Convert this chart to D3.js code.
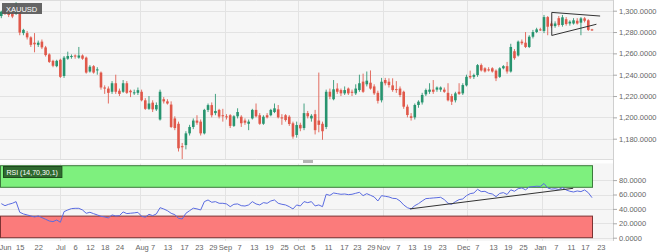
<!DOCTYPE html>
<html><head><meta charset="utf-8">
<script src="https://cdn.jsdelivr.net/npm/d3@7"></script>
<style>
html,body{margin:0;padding:0;background:#fff;}
svg{display:block;font-family:"Liberation Sans",Arial,sans-serif;}
</style></head>
<body><svg id="c" width="660" height="252"></svg>
<script>
// ---------------- DATA ----------------
const symbol = "XAUUSD";
const rsiLabel = "RSI (14,70,30,1)";

const opens = [1295,1299,1298,1297.5,1297,1301,1279,1279,1275,1270,
1268,1271,1265.6,1259,1253,1248,1254,1238.8,1255,1257,
1258,1256,1258,1256,1243,1248,1244,1242,1228,1227,
1224,1232,1225,1224,1232,1225,1222.5,1223,1224,1216,
1208,1213.8,1207.5,1198,1217,1215,1212,1199,1194,1173,
1174,1185,1191,1197,1196,1185,1207,1211.5,1204,1207,
1202,1201,1202,1192,1201,1200.6,1197,1194,1199,1207,
1202,1194,1202,1202,1205,1207.5,1200,1202,1200.6,1194.4,
1183.5,1193,1190,1204,1199,1203,1197,1194,1191,1224,
1217,1227,1225.6,1222.5,1227,1224,1222.5,1225.6,1233.5,1231,
1232.5,1229,1223,1216,1235,1233.4,1230,1226.5,1227,1224,
1210,1201,1200,1211.6,1214,1221.6,1224,1226,1226,1226,
1226,1223,1220,1216,1224,1222.5,1230,1238.8,1238,1239.7,
1249,1246,1245,1246,1243.8,1238,1246,1248,1243,1262,
1258,1271,1270,1266,1275.6,1280,1282.5,1281,1294,1288,
1285.6,1293,1286.6,1292,1288,1288,1290.6,1288.8,1292.8,1291,
1282.5];
const highs = [1300,1302,1300,1299,1308,1302,1283,1281,1276,1279,
1272,1273,1267,1260,1254,1254,1255,1257.5,1261.6,1259,
1259,1266,1259,1257,1249,1249,1247,1243,1230,1229,
1234,1240,1227,1235,1234,1226,1226,1228,1226,1218,
1220,1216,1214,1226,1219,1217,1215,1201,1196,1176,
1187,1193,1199,1202,1198,1208,1213,1214,1222,1208,
1208,1203,1203,1202,1208.5,1202,1199,1198,1208,1213,
1204,1202,1204,1208,1213,1211.6,1203,1203,1202,1196,
1196,1195,1213,1206,1203,1207,1242,1196,1226,1227,
1235,1232,1227,1229,1228,1226,1231,1240,1241,1243,
1244,1231,1225,1237,1237,1236.6,1236.6,1234,1229,1225,
1212,1204,1213,1216,1223,1227,1232,1235,1229,1229,
1228,1232,1222,1224,1232,1232,1240,1243.8,1241,1250,
1250.5,1247,1247,1247,1245,1247,1249,1252,1269,1264,
1272,1273,1280,1277,1282,1284,1284,1296,1295,1290,
1290,1295,1296,1294,1291,1293,1293,1294,1294,1292,
1283];
const lows = [1293,1296,1294,1293,1296,1277,1277,1273,1266,1261,
1266,1264,1257,1251,1247,1247,1237,1237,1254,1255,
1255,1255,1254,1241,1242,1241,1240,1226,1222,1213,
1222,1222,1220,1223,1222,1219,1221,1221,1215,1207,
1207,1205,1206,1197,1213,1212,1190,1188,1168,1160,
1170,1183,1189,1193,1183,1184,1205,1200,1202,1199,
1196,1198,1190,1191,1199,1191,1193,1188,1198,1200,
1193,1193,1199,1201,1204,1199,1193,1196,1192,1180,
1181,1187,1188,1199,1196,1184,1186,1179,1189,1217,
1216,1222,1220,1221,1221,1220,1221,1224,1223,1229,
1226,1221,1213,1214,1230,1228,1224,1223,1219,1208,
1200,1197,1198,1209,1212,1220,1222,1222,1224,1224,
1223,1215,1211.6,1214,1221,1221,1229,1236,1236,1238,
1243,1242,1243,1242,1234,1237,1245,1241,1242,1254,
1257,1268,1265,1265,1274,1279,1281,1279,1277,1284,
1284,1285,1285,1286,1286,1287,1287,1277,1289,1281,
1281];
const closes = [1299,1298,1296,1294.5,1301,1279.5,1282,1275,1268,1268.5,
1270,1265.6,1258.4,1252,1248.4,1253,1238,1256,1257.5,1257.5,
1257,1258,1255,1242,1247.5,1242,1245,1228,1227,1223,
1232,1224,1222,1232,1223,1223.5,1223.5,1225.5,1216,1208,
1213,1207.5,1211.6,1224,1215,1213,1191,1190,1171,1172,
1185,1191,1197,1195,1185,1207,1211.5,1202,1206,1200.7,
1201,1200,1192,1201,1205,1194.5,1195,1196,1207,1201,
1194,1200.6,1200,1207,1208.5,1200,1199,1197.5,1193.8,1182,
1192.8,1189.7,1204,1201,1201.5,1188,1193,1187,1224,1219.4,
1226.3,1224,1222.5,1225.6,1222.5,1223,1227,1232,1224,1234.4,
1227,1222.5,1215.5,1233.4,1232,1230.3,1225.6,1226,1221,1210,
1202.2,1199.5,1211.6,1214.7,1221,1225.6,1226,1224,1228,1228,
1224,1216,1214.7,1222.5,1222,1230.3,1238,1237.5,1239.7,1249,
1244,1243,1244,1243,1236.6,1246,1248,1243,1266,1255.5,
1271,1269.5,1266,1275.6,1280,1282.5,1282,1294,1285,1285.6,
1288,1286.6,1293.8,1287.5,1289.7,1291,1288,1292.8,1290.6,1282,
1281.5];

const rsiValues = [47.3,44.5,46.4,47.8,50.1,35.3,33.0,31.6,30.2,28.8,
30.2,27.9,25.6,23.2,22.3,24.6,21.4,36.2,38.5,40.4,
40.8,40.8,38.5,33.9,35.3,33.4,31.6,29.7,28.8,27.5,
31.6,30.2,30.6,35.8,33.5,34.0,34.5,35.2,29.8,28.5,
32.5,30.6,33.0,41.7,39.9,37.5,33.9,32.0,27.0,26.0,
33.9,37.5,41.0,40.0,38.5,50.1,52.4,49.2,50.1,47.8,
47.8,46.9,43.1,46.4,46.9,44.5,44.0,45.5,50.1,46.9,
45.5,48.7,47.8,51.0,52.4,47.8,46.4,45.5,43.1,39.9,
45.5,44.1,50.1,48.7,50.1,44.1,45.5,43.1,60.3,58.8,
62.1,61.2,60.3,60.7,59.8,60.3,61.7,63.0,58.4,61.2,
58.9,56.6,51.0,58.4,57.5,56.6,54.7,54.3,51.0,45.5,
41.7,39.9,44.5,47.3,51.0,54.3,54.7,55.2,55.6,56.1,
52.9,47.8,46.4,50.1,52.9,53.8,58.4,61.2,62.1,67.2,
64.0,64.4,61.7,60.7,57.0,61.5,62.6,60.0,66.5,64.5,
68.1,69.1,66.5,70.5,70.9,71.5,71.2,75.3,69.0,67.5,
68.0,67.0,69.5,66.3,64.5,63.5,64.9,64.0,66.3,62.5,
55.6];

const priceTicks = [1180,1200,1220,1240,1260,1280,1300];
const rsiTicks = [0,20,40,60,80];
const rsiUpper = 70, rsiLower = 30;
const xTickIdx = [1,5,10,16,20,24,28,32,38,41,45,49.5,53.5,57.3,60.6,64.4,68.4,72.5,76.6,80.6,84.4,88.5,92.8,96.3,100.1,103.4,107.4,111.2,115.3,119.4,125.1,128.8,133.2,137.2,141.3,145.9,150.2,154.3,158.1,162.4];
const xTickLabels = ["Jun","15","22","Jul","6","12","18","24","Aug","7","13","17","23","29","Sep","7","13","19","25","Oct","5","11","17","23","29","Nov","7","13","19","23","Dec","7","13","19","25","Jan","7","11","17","23"];
const monthIdx = [15.9,37.6,60.6,80.4,103.4,126.1,146.5];
// drawn annotations (index, value)
const triUpper = [[149.1,1298.4],[162.2,1295.0]];
const triLower = [[149.1,1276.8],[161.2,1287.3]];
const triLeft  = [[149.1,1298.4],[149.1,1276.8]];
const rsiTrend = [[110.7,40.0],[154.9,68.6]];

// ---------------- LAYOUT ----------------
const svg = d3.select("#c");
const plotR = 613;
const mainT = 0, mainB = 159;
const rsiT = 163.5, rsiB = 241;
const green = "#27946f", red = "#e0584a";
const n = closes.length;

const x = d3.scaleLinear().domain([0, n-1]).range([1.3, 592]);
const yP = d3.scaleLinear().domain([1180, 1300]).range([138.7, 10.7]);
const yR = d3.scaleLinear().domain([0, 100]).range([237.7, 165.7]);

const defs = svg.append("defs");
defs.append("clipPath").attr("id","clipMain").append("rect").attr("x",0).attr("y",mainT).attr("width",plotR).attr("height",mainB-mainT);
defs.append("clipPath").attr("id","clipRsi").append("rect").attr("x",0).attr("y",rsiT).attr("width",plotR).attr("height",rsiB-rsiT);

// backgrounds
svg.append("rect").attr("x",0).attr("y",mainT).attr("width",plotR).attr("height",mainB-mainT).attr("fill","#f6f6f6");
svg.append("rect").attr("x",0).attr("y",rsiT).attr("width",plotR).attr("height",rsiB-rsiT).attr("fill","#f6f6f6");

const gridC = "#e3e3e3";
// main grid
const gm = svg.append("g").attr("clip-path","url(#clipMain)");
gm.selectAll("line.hg").data(priceTicks).join("line")
  .attr("x1",0).attr("x2",plotR).attr("y1",d=>Math.round(yP(d))+0.5).attr("y2",d=>Math.round(yP(d))+0.5)
  .attr("stroke",gridC);
gm.selectAll("line.vg").data(monthIdx).join("line")
  .attr("x1",d=>Math.round(x(d))+0.5).attr("x2",d=>Math.round(x(d))+0.5).attr("y1",mainT).attr("y2",mainB)
  .attr("stroke",gridC);

// rsi grid
const gr = svg.append("g").attr("clip-path","url(#clipRsi)");
gr.selectAll("line.hg").data(rsiTicks).join("line")
  .attr("x1",0).attr("x2",plotR).attr("y1",d=>Math.round(yR(d))+0.5).attr("y2",d=>Math.round(yR(d))+0.5)
  .attr("stroke",gridC);
gr.selectAll("line.vg").data(monthIdx).join("line")
  .attr("x1",d=>Math.round(x(d))+0.5).attr("x2",d=>Math.round(x(d))+0.5).attr("y1",rsiT).attr("y2",rsiB)
  .attr("stroke",gridC);

// borders
svg.append("line").attr("x1",0).attr("x2",plotR).attr("y1",0.5).attr("y2",0.5).attr("stroke","#dddddd");
svg.append("line").attr("x1",0).attr("x2",plotR).attr("y1",mainB+0.5).attr("y2",mainB+0.5).attr("stroke","#dddddd");
svg.append("line").attr("x1",plotR+0.5).attr("x2",plotR+0.5).attr("y1",0).attr("y2",rsiB).attr("stroke","#cfcfcf");
svg.append("rect").attr("x",303).attr("y",160).attr("width",10).attr("height",3).attr("fill","#b5b5b5");

// candles
const candles = d3.range(n).map(i => ({i, o:opens[i], h:highs[i], l:lows[i], c:closes[i]}));
const gc = svg.append("g").attr("clip-path","url(#clipMain)");
gc.selectAll("line.wick").data(candles).join("line")
  .attr("x1",d=>x(d.i)).attr("x2",d=>x(d.i))
  .attr("y1",d=>yP(d.h)).attr("y2",d=>yP(d.l))
  .attr("stroke",d=>d.c>=d.o?green:red).attr("stroke-width",1).attr("opacity",0.85);
gc.selectAll("rect.body").data(candles).join("rect")
  .attr("x",d=>x(d.i)-1.3).attr("width",2.6)
  .attr("y",d=>yP(Math.max(d.o,d.c)))
  .attr("height",d=>Math.max(1,Math.abs(yP(d.o)-yP(d.c))))
  .attr("fill",d=>d.c>=d.o?green:red);

// triangle annotation
const lineP = d3.line().x(d=>x(d[0])).y(d=>yP(d[1]));
[triUpper,triLower,triLeft].forEach(seg=>{
  gc.append("path").attr("d",lineP(seg)).attr("fill","none").attr("stroke","#333").attr("stroke-width",1);
});

// symbol label
svg.append("rect").attr("x",2).attr("y",3).attr("width",40).attr("height",11).attr("fill","#555").attr("opacity",0.9);
svg.append("text").attr("x",6).attr("y",11.5).attr("fill","#fff").attr("font-size","7.5px").text(symbol);

// RSI bands
const bx0 = 0.5, bx1 = x(n-1)+0.5;
svg.append("rect").attr("x",bx0).attr("y",yR(100)).attr("width",bx1-bx0).attr("height",yR(rsiUpper)-yR(100))
  .attr("fill","#7ef07e").attr("stroke","#3d7a3d").attr("stroke-width",1);
svg.append("rect").attr("x",bx0).attr("y",yR(rsiLower)).attr("width",bx1-bx0).attr("height",yR(0)-yR(rsiLower))
  .attr("fill","#fb7b7b").attr("stroke","#7d3333").attr("stroke-width",1);

// RSI line
const gl = svg.append("g").attr("clip-path","url(#clipRsi)");
gl.append("path").datum(rsiValues)
  .attr("d", d3.line().x((d,i)=>x(i)).y(d=>yR(d)))
  .attr("fill","none").attr("stroke","#5a6be0").attr("stroke-width",1);
gl.append("path").attr("d", d3.line().x(d=>x(d[0])).y(d=>yR(d[1]))(rsiTrend))
  .attr("fill","none").attr("stroke","#333").attr("stroke-width",1);

// RSI label
const rl = svg.append("text").attr("x",6.5).attr("y",175).attr("fill","#fff").attr("font-size","7px").text(rsiLabel);
const tw = rl.node().getComputedTextLength();
svg.insert("rect", "text:last-of-type").attr("x",3.5).attr("y",166.5).attr("width",tw+7).attr("height",11)
  .attr("fill","#2f6a2f").attr("stroke","#1f4a1f");
rl.raise();

// axes
const fmt = d3.format(",.4f");
const axP = svg.append("g").attr("transform",`translate(${plotR},0)`)
  .call(d3.axisRight(yP).tickValues(priceTicks).tickFormat(fmt).tickSize(4).tickPadding(2));
const axR = svg.append("g").attr("transform",`translate(${plotR},0)`)
  .call(d3.axisRight(yR).tickValues(rsiTicks).tickFormat(fmt).tickSize(4).tickPadding(2));
const axX = svg.append("g").attr("transform",`translate(0,${rsiB})`)
  .call(d3.axisBottom(x).tickValues(xTickIdx).tickFormat((d,i)=>xTickLabels[i]).tickSize(0).tickPadding(4));
[axP,axR,axX].forEach(a=>{
  a.select(".domain").remove();
  a.selectAll(".tick line").attr("stroke","#aaa");
  a.selectAll(".tick text").attr("fill","#666").attr("font-size","7.5px").attr("font-family","Liberation Sans, Arial, sans-serif");
});
</script>
</body></html>
